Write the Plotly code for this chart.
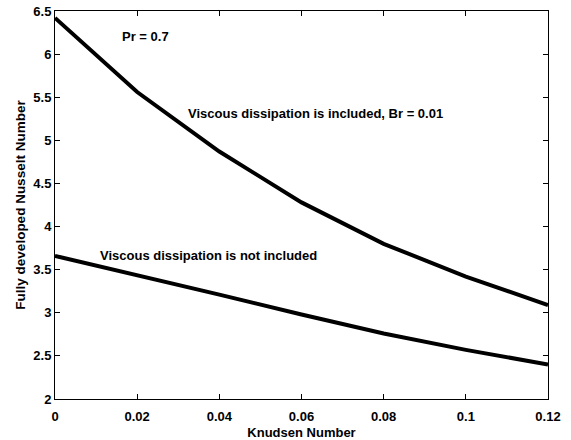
import plotly.graph_objects as go

# Knudsen number sampling points
knudsen = [0.0, 0.02, 0.04, 0.06, 0.08, 0.10, 0.12]
# Fully developed Nusselt number, viscous dissipation included (Br = 0.01)
nu_with_dissipation = [6.42, 5.56, 4.87, 4.28, 3.80, 3.42, 3.09]
# Fully developed Nusselt number, viscous dissipation not included
nu_without_dissipation = [3.66, 3.44, 3.21, 2.98, 2.76, 2.57, 2.40]

x_ticks = [0, 0.02, 0.04, 0.06, 0.08, 0.10, 0.12]
x_tick_labels = ["0", "0.02", "0.04", "0.06", "0.08", "0.1", "0.12"]
y_ticks = [2, 2.5, 3, 3.5, 4, 4.5, 5, 5.5, 6, 6.5]
y_tick_labels = ["2", "2.5", "3", "3.5", "4", "4.5", "5", "5.5", "6", "6.5"]

FONT = "Liberation Sans, Arial, sans-serif"

fig = go.Figure()
for ys in (nu_with_dissipation, nu_without_dissipation):
    fig.add_trace(go.Scatter(
        x=knudsen, y=ys, mode="lines",
        line=dict(color="black", width=4),
        showlegend=False, hoverinfo="skip",
    ))

notes = [
    ("Pr = 0.7", 0.0158, 6.21),
    ("Viscous dissipation is included, Br = 0.01", 0.0319, 5.31),
    ("Viscous dissipation is not included", 0.0105, 3.66),
]
for text, x, y in notes:
    fig.add_annotation(
        x=x, y=y, text=text, showarrow=False, xanchor="left", yanchor="middle",
        font=dict(family=FONT, size=13, color="black", weight="bold"),
    )

axis_common = dict(
    showgrid=False, zeroline=False, showline=True, linecolor="black",
    linewidth=1, mirror="ticks", ticks="inside", ticklen=5,
    tickcolor="black", tickwidth=1, automargin=False,
    tickfont=dict(family=FONT, size=13, color="black", weight="bold"),
)

fig.update_layout(
    width=571, height=440,
    margin=dict(l=55, r=23, t=11, b=41),
    paper_bgcolor="white", plot_bgcolor="white",
    xaxis=dict(
        range=[0, 0.12], tickvals=x_ticks, ticktext=x_tick_labels,
        ticklabelstandoff=5,
        title=dict(text="Knudsen Number", standoff=8,
                   font=dict(family=FONT, size=13, color="black", weight="bold")),
        **axis_common,
    ),
    yaxis=dict(
        range=[2, 6.5], tickvals=y_ticks, ticktext=y_tick_labels,
        title=dict(text="Fully developed Nusselt Number", standoff=4,
                   font=dict(family=FONT, size=13.5, color="black", weight="bold")),
        **axis_common,
    ),
)

fig.write_html("out.html")
